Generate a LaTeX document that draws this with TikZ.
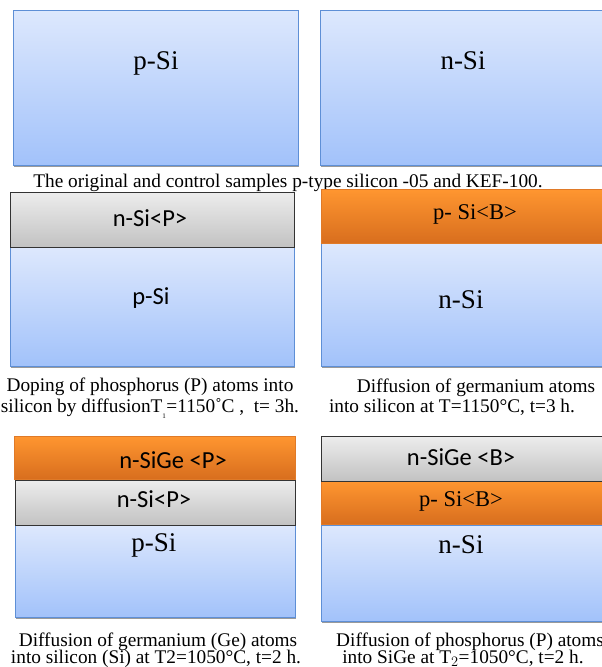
\documentclass[tikz,border=0pt]{standalone}
\usepackage{fontspec}
\setmainfont{Liberation Serif}
\newfontfamily\labsans{Carlito}
\definecolor{siTop}{HTML}{DDE8FD}
\definecolor{siBot}{HTML}{A2C2FA}
\definecolor{siEdge}{HTML}{5E8FD6}
\definecolor{orTop}{HTML}{FF9630}
\definecolor{orBot}{HTML}{D86E1E}
\definecolor{orEdge}{HTML}{E07A28}
\definecolor{grTop}{HTML}{EDEDED}
\definecolor{grBot}{HTML}{C2C2C2}
\definecolor{shade}{HTML}{9A9A9A}
\tikzset{
  silayer/.style={top color=siTop, bottom color=siBot, draw=siEdge, line width=1pt},
  orlayer/.style={top color=orTop, bottom color=orBot, draw=orEdge, line width=0.6pt},
  grlayer/.style={top color=grTop, bottom color=grBot, draw=black!80, line width=1pt},
  dropshade/.style={fill=shade},
  bigserif/.style={anchor=base, inner sep=0pt, font=\fontsize{27}{30}\selectfont},
  midserif/.style={anchor=base, inner sep=0pt, font=\fontsize{22.5}{26}\selectfont},
  biglab/.style={anchor=base, inner sep=0pt, font=\labsans\fontsize{24.5}{28}\selectfont},
  captext/.style={anchor=base, inner sep=0pt, font=\fontsize{19.3}{22}\selectfont},
}
\begin{document}
\begin{tikzpicture}[x=1pt, y=-1pt]
\useasboundingbox (0,0) rectangle (602,667);

% --- starting wafers ---
\fill[dropshade] (14,12) rectangle (299,167);
\path[silayer] (13,10) rectangle (298,165);
\fill[dropshade] (321,12) rectangle (605,167);
\path[silayer] (320,10) rectangle (604,165);
\node[bigserif] (pSiA) at (156,69.5) {p-Si};
\node[bigserif] (nSiA) at (463,69.5) {n-Si};
\node[captext] (capA) at (288,187) {The original and control samples p-type silicon -05 and KEF-100.};

% --- first diffusion step ---
\fill[dropshade] (11,249) rectangle (295,368);
\path[silayer] (10,247) rectangle (294,366);
\path[grlayer] (10,192) rectangle (294,247);
\node[biglab] (nSiPB) at (150,226) {n-Si<P>};
\node[biglab] (pSiB) at (151,304) {p-Si};

\fill[dropshade] (322,245) rectangle (604,368);
\path[silayer] (321,243) rectangle (603,366);
\path[orlayer] (321,189) rectangle (603,243);
\node[midserif] (pSiBB) at (475,219) {p- Si<B>};
\node[bigserif] (nSiB) at (461,308) {n-Si};

\node[captext] (capB1) at (150,391) {Doping of phosphorus (P) atoms into};
\node[captext] (capB2) at (150,412) {silicon by diffusionT$_{\raisebox{-3pt}{\scriptsize 1}}$=1150˚C ,\ \ t= 3h.};
\node[captext] (capC1) at (476,392) {Diffusion of germanium atoms};
\node[captext] (capC2) at (452,412) {into silicon at T=1150°C, t=3 h.};

% --- second diffusion step ---
\fill[dropshade] (16,527) rectangle (296,619);
\path[silayer] (15,525) rectangle (295,617);
\path[grlayer] (15,480) rectangle (295,525);
\path[orlayer] (14,436) rectangle (295,479);
\node[biglab] (nSiGeP) at (173,468) {n-SiGe <P>};
\node[biglab] (nSiPD) at (154,507) {n-Si<P>};
\node[bigserif] (pSiD) at (154,551) {p-Si};

\fill[dropshade] (322,527) rectangle (604,623);
\path[silayer] (321,525) rectangle (603,621);
\path[orlayer] (321,481) rectangle (603,524);
\path[grlayer] (321,436) rectangle (603,481);
\node[biglab] (nSiGeB) at (461,465) {n-SiGe <B>};
\node[midserif] (pSiBE) at (461,506) {p- Si<B>};
\node[bigserif] (nSiE) at (461,553) {n-Si};

\node[captext] (capD1) at (158,646) {Diffusion of germanium (Ge) atoms};
\node[captext] (capD2) at (156,663) {into silicon (Si) at T2=1050°C, t=2 h.};
\node[captext, anchor=base west] (capE1) at (336,646) {Diffusion of phosphorus (P) atoms};
\node[captext] (capE2) at (463,663) {into SiGe at T$_2$=1050°C, t=2 h.};
\end{tikzpicture}
\end{document}
